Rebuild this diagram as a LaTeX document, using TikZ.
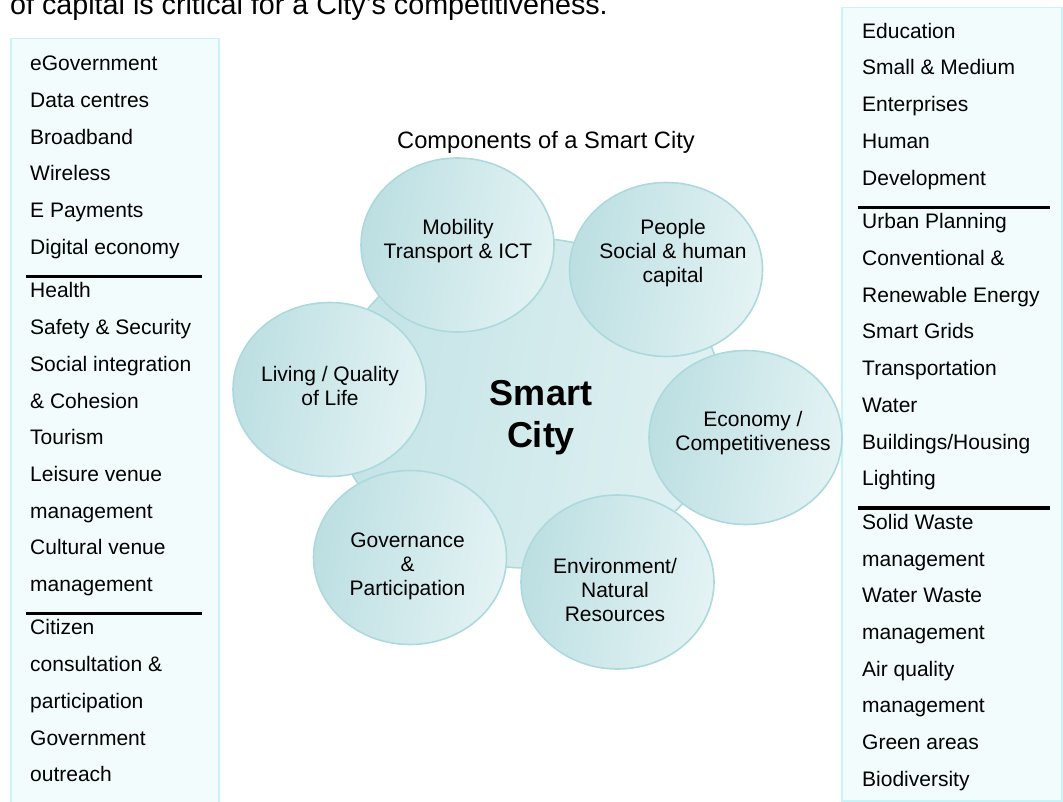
\documentclass[tikz,border=0pt]{standalone}
\usepackage{fontspec}
\setmainfont{Liberation Sans}
\usetikzlibrary{shapes.geometric}

\definecolor{boxfill}{HTML}{F2FCFD}
\definecolor{boxedge}{HTML}{C8F3F7}
\definecolor{ballL}{HTML}{BCDFE2}
\definecolor{ballR}{HTML}{E4F3F4}
\definecolor{ballEdge}{HTML}{ADD9DD}
\definecolor{hubL}{HTML}{C3E3E6}
\definecolor{hubR}{HTML}{E0F1F2}

\begin{document}
\begin{tikzpicture}[x=1pt,y=-1pt,
  listbox/.style={draw=boxedge, line width=1.5pt, fill=boxfill, inner sep=0pt, anchor=north west},
  sepline/.style={line width=3.5pt, black},
  item/.style={anchor=base west, inner sep=0pt, font=\fontsize{21}{25}\selectfont},
  ball/.style={ellipse, draw=ballEdge, line width=1.6pt, left color=ballL, right color=ballR,
    shading angle=80, minimum width=193pt, minimum height=174pt, inner sep=0pt},
  hub/.style={ellipse, draw=ballEdge, line width=1.6pt, left color=hubL, right color=hubR,
    shading angle=80, minimum width=390pt, minimum height=330pt, inner sep=0pt},
  lbl/.style={align=center, inner sep=0pt, font=\fontsize{21}{24}\selectfont}]
\useasboundingbox (0,0) rectangle (1063,802);

% heading sentence running off the top edge
\node[anchor=base west, inner sep=0pt, font=\fontsize{28.7}{30}\selectfont] (intro) at (10,15)
  {of capital is critical for a City's competitiveness.};

% ---- left list ----
\node[listbox, minimum width=208pt, minimum height=780pt] (lbox) at (10,38) {};
\foreach \t [count=\k from 0] in {eGovernment, Data centres, Broadband, Wireless, E Payments, Digital economy}
  \node[item] (la\k) at (30,{70.7+36.7*\k}) {\t};
\draw[sepline] (26,276.7) -- (202,276.7);
\foreach \t [count=\k from 0] in {Health, Safety \& Security, Social integration, \& Cohesion, Tourism,
    Leisure venue, management, Cultural venue, management}
  \node[item] (lb\k) at (30,{297.9+36.7*\k}) {\t};
\draw[sepline] (26,613.3) -- (202,613.3);
\foreach \t [count=\k from 0] in {Citizen, consultation \&, participation, Government, outreach}
  \node[item] (lc\k) at (30,{634.9+36.7*\k}) {\t};

% ---- right list ----
\node[listbox, minimum width=220pt, minimum height=793pt] (rbox) at (841,7) {};
\foreach \t [count=\k from 0] in {Education, Small \& Medium, Enterprises, Human, Development}
  \node[item] (ra\k) at (862,{38.3+36.7*\k}) {\t};
\draw[sepline] (858,207.6) -- (1050,207.6);
\foreach \t [count=\k from 0] in {Urban Planning, Conventional \&, Renewable Energy, Smart Grids,
    Transportation, Water, Buildings/Housing, Lighting}
  \node[item] (rb\k) at (862,{228.8+36.7*\k}) {\t};
\draw[sepline] (858,508) -- (1050,508);
\foreach \t [count=\k from 0] in {Solid Waste, management, Water Waste, management, Air quality,
    management, Green areas, Biodiversity}
  \node[item] (rc\k) at (862,{529.4+36.7*\k}) {\t};

% ---- centre: components ----
\node[anchor=base, inner sep=0pt, font=\fontsize{23.7}{28}\selectfont] (title) at (546,149)
  {Components of a Smart City};

\node[hub] (core) at (528,403) {};

\node[ball] (mob) at (457.5,245) {};
\node[ball] (ppl) at (666,269.5) {};
\node[ball] (liv) at (329.5,389.5) {};
\node[ball] (eco) at (745.5,437.5) {};
\node[ball] (gov) at (410,557.5) {};
\node[ball] (env) at (617.5,582) {};

\node[lbl] (mobT) at (458,241) {Mobility\\Transport \& ICT};
\node[lbl] (pplT) at (673,253) {People\\Social \& human\\capital};
\node[lbl] (livT) at (330,386) {Living / Quality\\of Life};
\node[lbl] (ecoT) at (753,433.5) {Economy /\\Competitiveness};
\node[lbl] (govT) at (407.5,566) {Governance\\\&\\Participation};
\node[lbl] (envT) at (615,589.5) {Environment/\\Natural\\Resources};

\node[align=center, inner sep=0pt, font=\bfseries\fontsize{36}{42}\selectfont] (coreT) at (541,418)
  {Smart\\City};
\end{tikzpicture}
\end{document}
